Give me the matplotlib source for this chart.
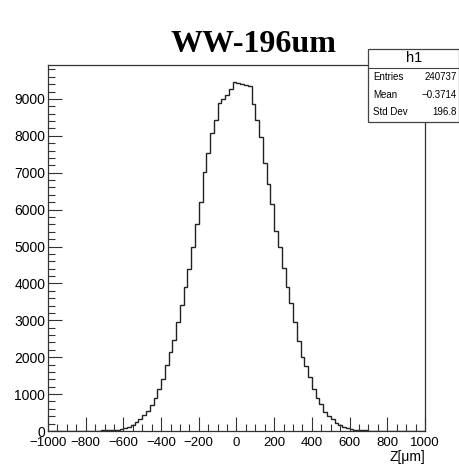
import matplotlib
matplotlib.use("Agg")
import matplotlib.pyplot as plt
import numpy as np
from matplotlib.patches import Rectangle
from matplotlib.ticker import MultipleLocator

plt.rcParams['font.family'] = ['Liberation Sans', 'DejaVu Sans']

# histogram h1: 100 bins of 20 um from -1000 to 1000
edges = np.arange(-1000, 1001, 20)
counts = [
    0, 0, 0, 0, 1, 1, 1, 2, 3, 4,
    5, 7, 9, 12, 16, 20, 26, 32, 40, 50,
    73, 100, 163, 236, 317, 434, 550, 705, 886, 1138,
    1401, 1789, 2149, 2466, 2962, 3420, 3894, 4382, 4995, 5610,
    6198, 7027, 7542, 8084, 8428, 8880, 9010, 9100, 9268, 9450,
    9423, 9404, 9390, 9340, 8850, 8428, 7975, 7255, 6690, 6144,
    5428, 4978, 4426, 3894, 3460, 2946, 2448, 2014, 1762, 1472,
    1130, 886, 724, 523, 407, 317, 225, 163, 117, 81,
    55, 38, 28, 20, 14, 10, 7, 5, 4, 3,
    2, 1, 1, 1, 0, 0, 0, 0, 0, 0,
]
title = "WW-196um"
xlabel = "Z[\u03bcm]"
stats_name = "h1"
stats_rows = [("Entries", "240737"), ("Mean", "\u22120.3714"), ("Std Dev", "196.8")]

W, H = 460, 465
fig = plt.figure(figsize=(W / 100, H / 100), dpi=100)

def fx(px):
    return px / W

def fy(py):
    return 1 - py / H

ax = fig.add_axes([fx(48), fy(431), fx(425) - fx(48), fy(65) - fy(431)])
ax.stairs(counts, edges, color="#222222", linewidth=1.0)
ax.set_xlim(-1000, 1000)
ax.set_ylim(0, 9920)

ax.xaxis.set_major_locator(MultipleLocator(200))
ax.xaxis.set_minor_locator(MultipleLocator(50))
ax.yaxis.set_major_locator(MultipleLocator(1000))
ax.yaxis.set_minor_locator(MultipleLocator(200))
ax.tick_params(which="both", direction="in", top=False, right=False, color="#333333")
ax.tick_params(which="major", length=10, width=0.8)
ax.tick_params(which="minor", length=5, width=0.8)
ax.tick_params(axis="x", labelsize=9.5, pad=4.5)
ax.tick_params(axis="y", labelsize=10, pad=2)
for s in ax.spines.values():
    s.set_linewidth(0.9)
    s.set_color("#333333")

fig.text(fx(425), fy(457), xlabel, ha="right", va="center", fontsize=10)
fig.text(fx(253), fy(44), title, ha="center", va="center", fontsize=23,
         fontweight="bold", family="Liberation Serif")

# stats box
bx0, bx1, by0, by1 = 368, 459, 49, 122
fig.patches.append(Rectangle((fx(bx0), fy(by1)), fx(bx1) - fx(bx0), fy(by0) - fy(by1),
                             transform=fig.transFigure, facecolor="white",
                             edgecolor="#444444", linewidth=0.9, zorder=5))
fig.add_artist(plt.Line2D([fx(bx0), fx(bx1)], [fy(68.5), fy(68.5)],
                          transform=fig.transFigure, color="#444444", linewidth=0.8, zorder=6))
fig.text(fx(414), fy(58.5), stats_name, ha="center", va="center", fontsize=10.5, zorder=7)
for (name, val), yy in zip(stats_rows, [77, 95, 112]):
    fig.text(fx(373), fy(yy), name, ha="left", va="center", fontsize=7, zorder=7)
    fig.text(fx(457), fy(yy), val, ha="right", va="center", fontsize=7, zorder=7)

fig.savefig("out.png", dpi=100)
